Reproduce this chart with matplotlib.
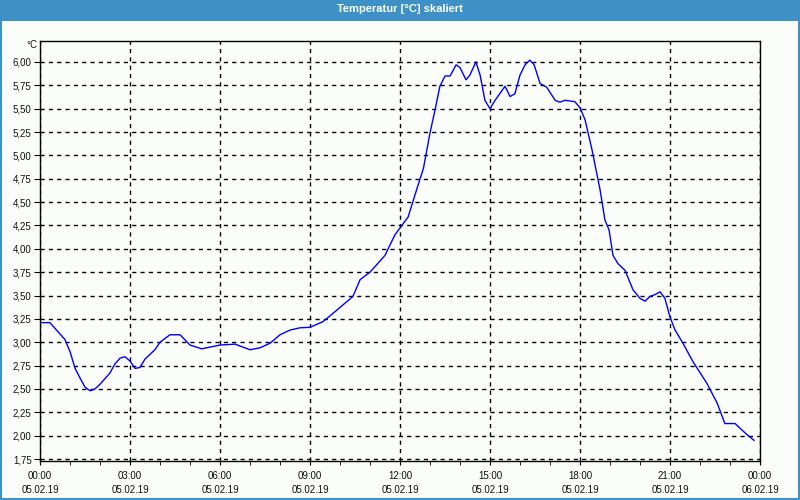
import matplotlib
matplotlib.use("Agg")
import matplotlib.pyplot as plt
from matplotlib.patches import Rectangle
import matplotlib.ticker as mticker

plt.rcParams['font.family'] = ['Liberation Sans', 'DejaVu Sans']

title = 'Temperatur [°C] skaliert'

# hours since 05.02.19 00:00 and temperature in °C
hours = [0.00, 0.33, 0.83, 1.00, 1.17, 1.33, 1.50, 1.67, 1.83, 2.00,
         2.33, 2.50, 2.67, 2.83, 3.00, 3.17, 3.33, 3.50, 3.83, 4.00,
         4.33, 4.67, 5.00, 5.39, 6.00, 6.50, 7.00, 7.33, 7.67, 8.00,
         8.33, 8.67, 9.00, 9.43, 9.77, 10.10, 10.43, 10.67, 11.00, 11.50,
         11.83, 12.27, 12.60, 12.78, 13.00, 13.17, 13.33, 13.50, 13.67, 13.87,
         14.00, 14.20, 14.33, 14.53, 14.67, 14.83, 15.00, 15.17, 15.50, 15.67,
         15.83, 16.00, 16.17, 16.33, 16.47, 16.67, 16.89, 17.17, 17.33, 17.50,
         17.83, 18.00, 18.17, 18.40, 18.67, 18.83, 18.97, 19.10, 19.27, 19.50,
         19.77, 20.00, 20.17, 20.33, 20.50, 20.67, 20.83, 21.00, 21.17, 21.43,
         21.77, 22.23, 22.57, 22.83, 23.17, 23.40, 23.57, 23.80]
temps = [3.21, 3.21, 3.03, 2.90, 2.72, 2.62, 2.52, 2.48, 2.50, 2.55,
         2.67, 2.77, 2.83, 2.845, 2.80, 2.72, 2.73, 2.82, 2.92, 3.00,
         3.08, 3.08, 2.97, 2.93, 2.97, 2.98, 2.92, 2.94, 2.99, 3.08,
         3.13, 3.155, 3.16, 3.22, 3.31, 3.40, 3.49, 3.67, 3.75, 3.93,
         4.15, 4.34, 4.68, 4.86, 5.24, 5.49, 5.74, 5.85, 5.85, 5.97,
         5.94, 5.81, 5.86, 6.00, 5.86, 5.59, 5.50, 5.59, 5.74, 5.63,
         5.66, 5.86, 5.97, 6.02, 5.97, 5.77, 5.73, 5.59, 5.57, 5.59,
         5.575, 5.51, 5.38, 5.06, 4.63, 4.31, 4.20, 3.93, 3.84, 3.77,
         3.56, 3.47, 3.44, 3.49, 3.51, 3.54, 3.47, 3.27, 3.13, 2.99,
         2.79, 2.56, 2.35, 2.13, 2.13, 2.06, 2.01, 1.95]

xticks = [0, 3, 6, 9, 12, 15, 18, 21, 24]
xlabels = ['00:00\n05.02.19', '03:00\n05.02.19', '06:00\n05.02.19',
           '09:00\n05.02.19', '12:00\n05.02.19', '15:00\n05.02.19',
           '18:00\n05.02.19', '21:00\n05.02.19', '00:00\n06.02.19']

bg = '#fbfdfb'
blue = '#3d91c7'

fig = plt.figure(figsize=(8, 5), dpi=100, facecolor=bg)
ax = fig.add_axes([0.05, 0.078, 0.90, 0.841], facecolor=bg)

# title bar and frame
fig.patches.append(Rectangle((0, 1 - 20.5 / 500), 1, 20.5 / 500, transform=fig.transFigure,
                             facecolor=blue, edgecolor='none', zorder=0))
fig.patches.append(Rectangle((0.001, 0.002), 0.998, 0.997, transform=fig.transFigure,
                             facecolor='none', edgecolor=blue, linewidth=1.5, zorder=0))
fig.text(0.5, 1 - 9 / 500, title, color='white', fontsize=8, fontweight='bold',
         ha='center', va='center')

ax.plot(hours, temps, color='#0000ff', linewidth=1)

ax.set_xlim(0, 24)
ax.set_ylim(1.729, 6.23)
ax.set_xticks(xticks)
ax.set_xticklabels(xlabels, linespacing=1.5)
ax.xaxis.set_minor_locator(mticker.MultipleLocator(1))
ax.set_yticks([1.75 + 0.25 * i for i in range(18)])
ax.yaxis.set_major_formatter(mticker.FuncFormatter(lambda v, p: f'{v:.2f}'.replace('.', ',')))

ax.tick_params(axis='both', which='both', direction='out', colors='black',
               labelsize=7, labelcolor='#111111')
ax.tick_params(axis='x', which='both', length=3, pad=4)
ax.tick_params(axis='y', length=4, pad=2)

ax.grid(True, which='major', color='black', linestyle=(0, (3, 3)), linewidth=1)
for s in ax.spines.values():
    s.set_color('black')
    s.set_linewidth(1)

fig.text(37 / 800, 1 - 45 / 500, '°C', fontsize=7, color='#111111', ha='right', va='center')

fig.savefig('out.png', dpi=100, facecolor=bg)
